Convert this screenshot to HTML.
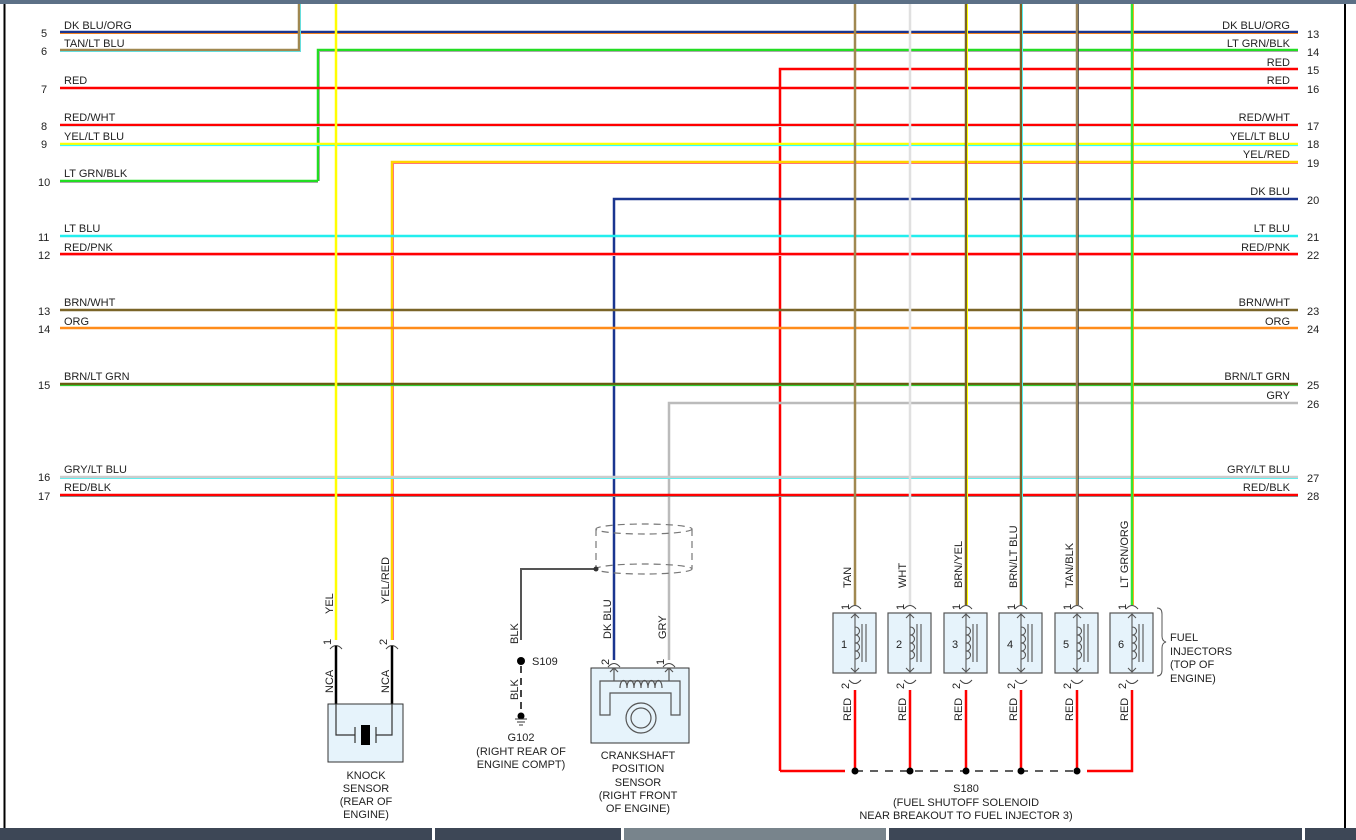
<!DOCTYPE html>
<html><head><meta charset="utf-8"><style>
html,body{margin:0;padding:0;background:#fff;}
svg{display:block;font-family:"Liberation Sans",sans-serif;}
text{font-size:11px;fill:#222;}
</style></head><body>
<svg width="1356" height="840" viewBox="0 0 1356 840" xmlns="http://www.w3.org/2000/svg">
<rect x="0" y="0" width="1356" height="840" fill="#fff"/>
<rect x="0" y="0" width="1356" height="4" fill="#5c7086"/>
<line x1="4.5" y1="4" x2="4.5" y2="828" stroke="#000" stroke-width="2"/>
<line x1="1345" y1="4" x2="1345" y2="828" stroke="#000" stroke-width="2"/>
<rect x="0" y="828" width="432" height="12" fill="#3d4756"/>
<rect x="435" y="828" width="186" height="12" fill="#3d4756"/>
<rect x="624" y="828" width="262" height="12" fill="#78848c"/>
<rect x="889" y="828" width="413" height="12" fill="#3d4756"/>
<rect x="1305" y="828" width="51" height="12" fill="#3d4756"/>

<g stroke-width="2.5" fill="none">
<line x1="60" y1="32" x2="1298" y2="32" stroke="#1a3590"/><line x1="60" y1="33.5" x2="1298" y2="33.5" stroke="#f08020" stroke-width="1"/>
<polyline points="60,50 299,50 299,4" stroke="#a08850"/><polyline points="60,51.5 300.5,51.5 300.5,4" stroke="#6dd" stroke-width="1"/>
<polyline points="318,181 318,50 1298,50" stroke="#22dd22"/><polyline points="319.5,181 319.5,51.5 1298,51.5" stroke="#aaa" stroke-width="1"/>
<polyline points="60,181 318,181" stroke="#22dd22"/><line x1="60" y1="182.5" x2="318" y2="182.5" stroke="#aaa" stroke-width="1"/>
<polyline points="780,771 780,69 1298,69" stroke="#f00"/>
<line x1="60" y1="88" x2="1298" y2="88" stroke="#f00"/>
<line x1="60" y1="125" x2="1298" y2="125" stroke="#f00"/><line x1="60" y1="126.5" x2="1298" y2="126.5" stroke="#ddd" stroke-width="1"/>
<line x1="60" y1="144" x2="1298" y2="144" stroke="#ff0"/><line x1="60" y1="145.5" x2="1298" y2="145.5" stroke="#3ff" stroke-width="1.2"/>
<polyline points="392,640 392,162 1298,162" stroke="#ffd400"/><polyline points="393.5,640 393.5,163.5 1298,163.5" stroke="#f77" stroke-width="1"/>
<polyline points="614,660 614,199 1298,199" stroke="#1a3590"/>
<line x1="60" y1="236" x2="1298" y2="236" stroke="#2ee"/>
<line x1="60" y1="254" x2="1298" y2="254" stroke="#f00"/><line x1="60" y1="255.5" x2="1298" y2="255.5" stroke="#f9a" stroke-width="1"/>
<line x1="60" y1="310" x2="1298" y2="310" stroke="#7a6428"/>
<line x1="60" y1="328" x2="1298" y2="328" stroke="#ff8c1a"/>
<line x1="60" y1="384" x2="1298" y2="384" stroke="#6a5a10"/><line x1="60" y1="385.5" x2="1298" y2="385.5" stroke="#3c3" stroke-width="1.2"/>
<polyline points="669,660 669,403 1298,403" stroke="#bbb"/>
<line x1="60" y1="477" x2="1298" y2="477" stroke="#ccc"/><line x1="60" y1="478.5" x2="1298" y2="478.5" stroke="#6ee" stroke-width="1"/>
<line x1="60" y1="495" x2="1298" y2="495" stroke="#f00"/><line x1="60" y1="496.5" x2="1298" y2="496.5" stroke="#888" stroke-width="1"/>
<line x1="336" y1="4" x2="336" y2="640" stroke="#ff0"/>
<line x1="855" y1="4" x2="855" y2="605" stroke="#a08850"/>
<line x1="910" y1="4" x2="910" y2="605" stroke="#e0e0e0"/>
<line x1="966" y1="4" x2="966" y2="605" stroke="#7a6428"/><line x1="967.5" y1="4" x2="967.5" y2="605" stroke="#ff0" stroke-width="1"/>
<line x1="1021" y1="4" x2="1021" y2="605" stroke="#7a6428"/><line x1="1022.5" y1="4" x2="1022.5" y2="605" stroke="#5ee" stroke-width="1"/>
<line x1="1077" y1="4" x2="1077" y2="605" stroke="#9a8458"/><line x1="1078.5" y1="4" x2="1078.5" y2="605" stroke="#333" stroke-width="0.7"/>
<line x1="1132" y1="4" x2="1132" y2="605" stroke="#33e633"/><line x1="1133.5" y1="4" x2="1133.5" y2="605" stroke="#f90" stroke-width="0.8"/>
<line x1="780" y1="771" x2="845" y2="771" stroke="#f00"/>
<polyline points="1087,771 1132,771 1132,690" stroke="#f00"/>
<line x1="855" y1="690" x2="855" y2="771" stroke="#f00"/>
<line x1="910" y1="690" x2="910" y2="771" stroke="#f00"/>
<line x1="966" y1="690" x2="966" y2="771" stroke="#f00"/>
<line x1="1021" y1="690" x2="1021" y2="771" stroke="#f00"/>
<line x1="1077" y1="690" x2="1077" y2="771" stroke="#f00"/>
</g>
<line x1="855" y1="771" x2="1077" y2="771" stroke="#000" stroke-width="1.3" stroke-dasharray="8,7"/>
<g fill="#000"><circle cx="855" cy="771" r="3.5"/><circle cx="910" cy="771" r="3.5"/><circle cx="966" cy="771" r="3.5"/><circle cx="1021" cy="771" r="3.5"/><circle cx="1077" cy="771" r="3.5"/></g>

<g>
<text x="64" y="29">DK BLU/ORG</text><text x="41" y="37">5</text>
<text x="64" y="47">TAN/LT BLU</text><text x="41" y="55">6</text>
<text x="64" y="84">RED</text><text x="41" y="93">7</text>
<text x="64" y="121">RED/WHT</text><text x="41" y="130">8</text>
<text x="64" y="140">YEL/LT BLU</text><text x="41" y="148">9</text>
<text x="64" y="177">LT GRN/BLK</text><text x="38" y="186">10</text>
<text x="64" y="232">LT BLU</text><text x="38" y="241">11</text>
<text x="64" y="251">RED/PNK</text><text x="38" y="259">12</text>
<text x="64" y="306">BRN/WHT</text><text x="38" y="315">13</text>
<text x="64" y="325">ORG</text><text x="38" y="333">14</text>
<text x="64" y="380">BRN/LT GRN</text><text x="38" y="389">15</text>
<text x="64" y="473">GRY/LT BLU</text><text x="38" y="481">16</text>
<text x="64" y="491">RED/BLK</text><text x="38" y="500">17</text>
</g>
<g text-anchor="end">
<text x="1290" y="29">DK BLU/ORG</text>
<text x="1290" y="47">LT GRN/BLK</text>
<text x="1290" y="66">RED</text>
<text x="1290" y="84">RED</text>
<text x="1290" y="121">RED/WHT</text>
<text x="1290" y="140">YEL/LT BLU</text>
<text x="1290" y="158">YEL/RED</text>
<text x="1290" y="195">DK BLU</text>
<text x="1290" y="232">LT BLU</text>
<text x="1290" y="251">RED/PNK</text>
<text x="1290" y="306">BRN/WHT</text>
<text x="1290" y="325">ORG</text>
<text x="1290" y="380">BRN/LT GRN</text>
<text x="1290" y="399">GRY</text>
<text x="1290" y="473">GRY/LT BLU</text>
<text x="1290" y="491">RED/BLK</text>
</g>
<g>
<text x="1307" y="38">13</text><text x="1307" y="56">14</text><text x="1307" y="74">15</text><text x="1307" y="93">16</text>
<text x="1307" y="130">17</text><text x="1307" y="148">18</text><text x="1307" y="167">19</text><text x="1307" y="204">20</text>
<text x="1307" y="241">21</text><text x="1307" y="259">22</text><text x="1307" y="315">23</text><text x="1307" y="333">24</text>
<text x="1307" y="389">25</text><text x="1307" y="408">26</text><text x="1307" y="482">27</text><text x="1307" y="500">28</text>
</g>

<g fill="none" stroke="#444" stroke-width="1">
<path d="M330,649 Q336,642 342,649"/><path d="M386,649 Q392,642 398,649"/>
</g>
<line x1="336" y1="646" x2="336" y2="704" stroke="#000" stroke-width="2.5"/>
<line x1="392" y1="646" x2="392" y2="704" stroke="#000" stroke-width="2.5"/>
<rect x="328" y="704" width="75" height="58" fill="#e6f3fb" stroke="#333"/>
<g stroke="#333" fill="none" stroke-width="1.2">
<polyline points="336,704 336,735 355,735"/><line x1="355" y1="727" x2="355" y2="743"/>
<polyline points="392,704 392,735 376,735"/><line x1="376" y1="727" x2="376" y2="743"/>
</g>
<rect x="361" y="725" width="9" height="20" fill="#000"/>
<g text-anchor="middle"><text x="366" y="779">KNOCK</text><text x="366" y="792">SENSOR</text><text x="366" y="805">(REAR OF</text><text x="366" y="818">ENGINE)</text></g>
<text transform="translate(333,614) rotate(-90)">YEL</text>
<text transform="translate(389,604) rotate(-90)">YEL/RED</text>
<text transform="translate(331,645) rotate(-90)">1</text>
<text transform="translate(387,645) rotate(-90)">2</text>
<text transform="translate(333,693) rotate(-90)">NCA</text>
<text transform="translate(389,693) rotate(-90)">NCA</text>

<g fill="none" stroke="#777" stroke-width="1.2" stroke-dasharray="7,5">
<ellipse cx="644" cy="529" rx="48" ry="5"/>
<ellipse cx="644" cy="569" rx="48" ry="5"/>
<line x1="596" y1="529" x2="596" y2="569"/><line x1="692" y1="529" x2="692" y2="569"/>
</g>
<polyline points="521,640 521,569 596,569" fill="none" stroke="#555" stroke-width="2"/>
<circle cx="596" cy="569" r="2.5" fill="#333"/>
<circle cx="521" cy="661" r="4" fill="#000"/>
<line x1="521" y1="666" x2="521" y2="712" stroke="#444" stroke-width="2" stroke-dasharray="7,5"/>
<circle cx="521" cy="716" r="3.5" fill="#000"/>
<line x1="515" y1="719" x2="527" y2="719" stroke="#333"/><line x1="517" y1="722" x2="525" y2="722" stroke="#333"/><line x1="519" y1="725" x2="523" y2="725" stroke="#333"/>
<text x="532" y="665">S109</text>
<text transform="translate(518,644) rotate(-90)">BLK</text>
<text transform="translate(518,700) rotate(-90)">BLK</text>
<g text-anchor="middle"><text x="521" y="741">G102</text><text x="521" y="755">(RIGHT REAR OF</text><text x="521" y="768">ENGINE COMPT)</text></g>

<text transform="translate(611,639) rotate(-90)">DK BLU</text>
<text transform="translate(666,639) rotate(-90)">GRY</text>
<text transform="translate(609,665) rotate(-90)">2</text>
<text transform="translate(664,665) rotate(-90)">1</text>
<g fill="none" stroke="#444" stroke-width="1">
<path d="M608,667 Q614,660 620,667"/><path d="M663,667 Q669,660 675,667"/>
</g>
<rect x="591" y="668" width="98" height="75" fill="#e6f3fb" stroke="#333"/>
<g fill="none" stroke="#555" stroke-width="1.2">
<path d="M600,681 H680 V715 H671 V693 H610 V715 H600 Z"/>
<path d="M614,681 V668 M610,672 L614,668 L618,672"/>
<path d="M669,681 V668 M665,672 L669,668 L673,672"/>
<path d="M620,688 c0,-10 7,-10 7,0 c0,-10 7,-10 7,0 c0,-10 7,-10 7,0 c0,-10 7,-10 7,0 c0,-10 7,-10 7,0 c0,-10 7,-10 7,0"/>
<circle cx="641" cy="718" r="15"/>
<circle cx="641" cy="718" r="10"/>
</g>
<g text-anchor="middle"><text x="638" y="759">CRANKSHAFT</text><text x="638" y="772">POSITION</text><text x="638" y="786">SENSOR</text><text x="638" y="799">(RIGHT FRONT</text><text x="638" y="812">OF ENGINE)</text></g>

<g fill="none" stroke="#444" stroke-width="1">
<path d="M849,609 Q855,602 861,609"/><path d="M904,609 Q910,602 916,609"/><path d="M960,609 Q966,602 972,609"/><path d="M1015,609 Q1021,602 1027,609"/><path d="M1071,609 Q1077,602 1083,609"/><path d="M1126,609 Q1132,602 1138,609"/>
<path d="M849,680 Q855,687 861,680"/><path d="M904,680 Q910,687 916,680"/><path d="M960,680 Q966,687 972,680"/><path d="M1015,680 Q1021,687 1027,680"/><path d="M1071,680 Q1077,687 1083,680"/><path d="M1126,680 Q1132,687 1138,680"/>
</g>
<g fill="#e6f3fb" stroke="#555" stroke-width="1.2">
<rect x="833" y="613" width="43" height="60"/><rect x="888" y="613" width="43" height="60"/><rect x="944" y="613" width="43" height="60"/>
<rect x="999" y="613" width="43" height="60"/><rect x="1055" y="613" width="43" height="60"/><rect x="1110" y="613" width="43" height="60"/>
</g>
<g fill="none" stroke="#555" stroke-width="1.1">
<path d="M855,614 V672 M851,618 L855,614 L859,618 M851,668 L855,672 L859,668 M855,627 c6,0 6,8 0,8 c6,0 6,8 0,8 c6,0 6,8 0,8 c6,0 6,8 0,8 M862,624 V662 M866,624 V662"/>
<path d="M910,614 V672 M906,618 L910,614 L914,618 M906,668 L910,672 L914,668 M910,627 c6,0 6,8 0,8 c6,0 6,8 0,8 c6,0 6,8 0,8 c6,0 6,8 0,8 M917,624 V662 M921,624 V662"/>
<path d="M966,614 V672 M962,618 L966,614 L970,618 M962,668 L966,672 L970,668 M966,627 c6,0 6,8 0,8 c6,0 6,8 0,8 c6,0 6,8 0,8 c6,0 6,8 0,8 M973,624 V662 M977,624 V662"/>
<path d="M1021,614 V672 M1017,618 L1021,614 L1025,618 M1017,668 L1021,672 L1025,668 M1021,627 c6,0 6,8 0,8 c6,0 6,8 0,8 c6,0 6,8 0,8 c6,0 6,8 0,8 M1028,624 V662 M1032,624 V662"/>
<path d="M1077,614 V672 M1073,618 L1077,614 L1081,618 M1073,668 L1077,672 L1081,668 M1077,627 c6,0 6,8 0,8 c6,0 6,8 0,8 c6,0 6,8 0,8 c6,0 6,8 0,8 M1084,624 V662 M1088,624 V662"/>
<path d="M1132,614 V672 M1128,618 L1132,614 L1136,618 M1128,668 L1132,672 L1136,668 M1132,627 c6,0 6,8 0,8 c6,0 6,8 0,8 c6,0 6,8 0,8 c6,0 6,8 0,8 M1139,624 V662 M1143,624 V662"/>
</g>
<g>
<text x="841" y="648">1</text><text x="896" y="648">2</text><text x="952" y="648">3</text><text x="1007" y="648">4</text><text x="1063" y="648">5</text><text x="1118" y="648">6</text>
</g>
<g>
<text transform="translate(851,588) rotate(-90)">TAN</text>
<text transform="translate(906,588) rotate(-90)">WHT</text>
<text transform="translate(962,588) rotate(-90)">BRN/YEL</text>
<text transform="translate(1017,588) rotate(-90)">BRN/LT BLU</text>
<text transform="translate(1073,588) rotate(-90)">TAN/BLK</text>
<text transform="translate(1128,588) rotate(-90)">LT GRN/ORG</text>
<text transform="translate(849,610) rotate(-90)">1</text><text transform="translate(904,610) rotate(-90)">1</text><text transform="translate(960,610) rotate(-90)">1</text><text transform="translate(1015,610) rotate(-90)">1</text><text transform="translate(1071,610) rotate(-90)">1</text><text transform="translate(1126,610) rotate(-90)">1</text>
<text transform="translate(849,689) rotate(-90)">2</text><text transform="translate(904,689) rotate(-90)">2</text><text transform="translate(960,689) rotate(-90)">2</text><text transform="translate(1015,689) rotate(-90)">2</text><text transform="translate(1071,689) rotate(-90)">2</text><text transform="translate(1126,689) rotate(-90)">2</text>
<text transform="translate(851,721) rotate(-90)">RED</text><text transform="translate(906,721) rotate(-90)">RED</text><text transform="translate(962,721) rotate(-90)">RED</text><text transform="translate(1017,721) rotate(-90)">RED</text><text transform="translate(1073,721) rotate(-90)">RED</text><text transform="translate(1128,721) rotate(-90)">RED</text>
</g>
<path d="M1157,608 q5,0 5,6 v22 q0,5 4,6 q-4,1 -4,6 v22 q0,6 -5,6" fill="none" stroke="#555"/>
<text x="1170" y="641">FUEL</text><text x="1170" y="655">INJECTORS</text><text x="1170" y="668">(TOP OF</text><text x="1170" y="682">ENGINE)</text>
<g text-anchor="middle"><text x="966" y="792">S180</text><text x="966" y="806">(FUEL SHUTOFF SOLENOID</text><text x="966" y="819">NEAR BREAKOUT TO FUEL INJECTOR 3)</text></g>
</svg>
</body></html>
